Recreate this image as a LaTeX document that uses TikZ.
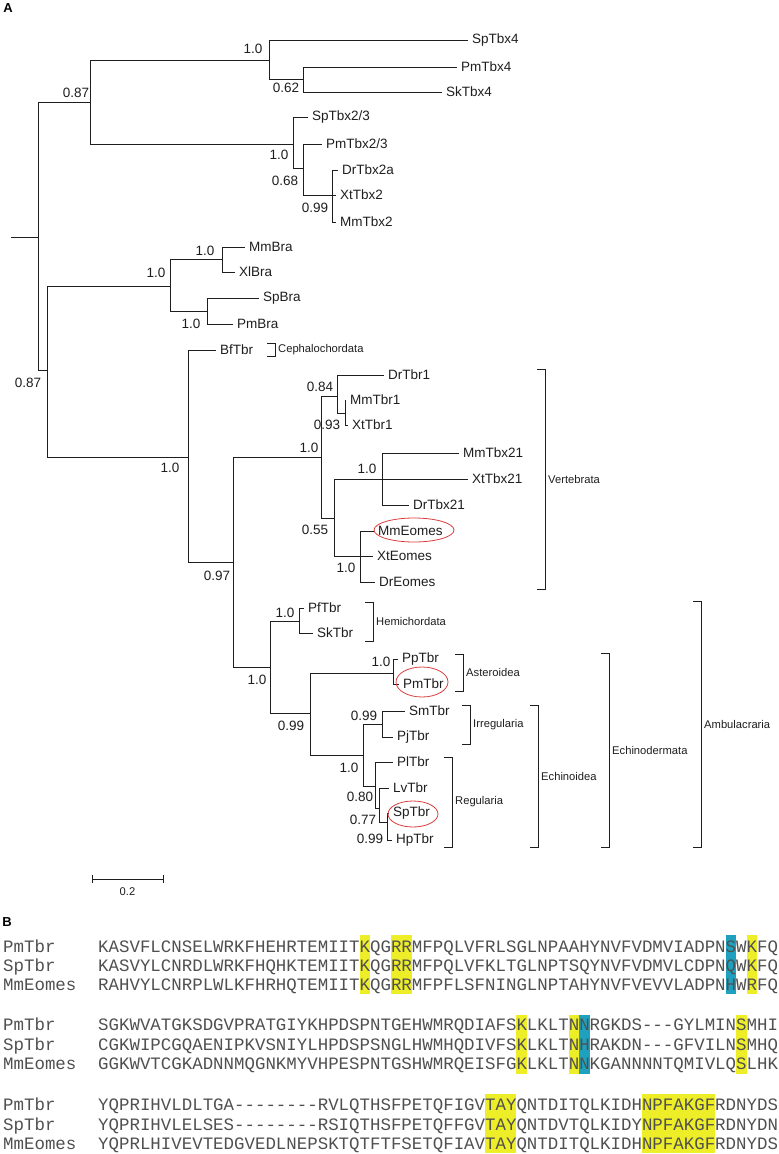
\documentclass[tikz,border=0pt]{standalone}
\usepackage{fontspec}
\setmainfont{Liberation Sans}
\setmonofont{Liberation Mono}
\usetikzlibrary{calc}

\definecolor{hlyel}{RGB}{238,238,40}
\definecolor{hlcyan}{RGB}{30,160,190}
\definecolor{seqgray}{RGB}{80,80,80}
\definecolor{ovalred}{RGB}{218,60,60}
\definecolor{treeink}{RGB}{30,30,30}

\begin{document}
\begin{tikzpicture}[x=1pt,y=-1pt,
  branch/.style={line width=0.9pt,color=treeink},
  tip/.style={anchor=west,inner sep=0pt,xshift=4pt,text=treeink,font=\fontsize{13.5}{14}\selectfont},
  supp/.style={inner sep=0pt,text=treeink,font=\fontsize{13.5}{14}\selectfont},
  bracket/.style={line width=0.9pt,color=treeink},
  grp/.style={anchor=west,inner sep=0pt,text=treeink,font=\fontsize{11.2}{12}\selectfont},
  oval/.style={line width=0.8pt,color=ovalred},
  seq/.style={anchor=base west,inner sep=0pt,text=seqgray,font=\ttfamily\fontsize{17.43}{18}\selectfont},
  panel/.style={inner sep=0pt,font=\bfseries\fontsize{13}{14}\selectfont}]
\useasboundingbox (0,0) rectangle (779,1154);

\node[panel] (pA) at (8,8) {A};
\node[panel] (pB) at (7,922) {B};

% internal nodes of the tree
\coordinate (r0) at (11,237);
\coordinate (r) at (38,237);
\coordinate (n1) at (90,102);
\coordinate (n2) at (269,60);
\coordinate (n4) at (303,79);
\coordinate (n3) at (293,144);
\coordinate (n5) at (303,168);
\coordinate (n6) at (332,195);
\coordinate (n7) at (47,370);
\coordinate (n8) at (170,286);
\coordinate (n10) at (222,259);
\coordinate (n11) at (207,311);
\coordinate (n9) at (188,457);
\coordinate (n12) at (233,562);
\coordinate (n13) at (321,457);
\coordinate (n15) at (337,396);
\coordinate (n17) at (345,413);
\coordinate (n16) at (334,518);
\coordinate (n18) at (382,479);
\coordinate (n19) at (360,556);
\coordinate (n14) at (270,667);
\coordinate (n20) at (299,621);
\coordinate (n21) at (310,713);
\coordinate (n22) at (393,673);
\coordinate (n23) at (363,755);
\coordinate (n24) at (382,724);
\coordinate (n25) at (375,786);
\coordinate (n26) at (379,808);
\coordinate (n27) at (387,822);

% tips
\coordinate (tSpTbx4) at (468,40);
\coordinate (tPmTbx4) at (457,67);
\coordinate (tSkTbx4) at (442,92);
\coordinate (tSpTbx23) at (308,117);
\coordinate (tPmTbx23) at (322,144);
\coordinate (tDrTbx2a) at (338,170);
\coordinate (tXtTbx2) at (336,195);
\coordinate (tMmTbx2) at (336,222);
\coordinate (tMmBra) at (245,247);
\coordinate (tXlBra) at (235,272);
\coordinate (tSpBra) at (259,298);
\coordinate (tPmBra) at (233,324);
\coordinate (tBfTbr) at (216,350);
\coordinate (tDrTbr1) at (384,375);
\coordinate (tMmTbr1) at (346,400);
\coordinate (tXtTbr1) at (348,425);
\coordinate (tMmTbx21) at (459,453);
\coordinate (tXtTbx21) at (468,479);
\coordinate (tDrTbx21) at (409,505);
\coordinate (tMmEomes) at (374,531);
\coordinate (tXtEomes) at (373,556);
\coordinate (tDrEomes) at (375,582);
\coordinate (tPfTbr) at (304,608);
\coordinate (tSkTbr) at (313,633);
\coordinate (tPpTbr) at (398,659);
\coordinate (tPmTbr) at (399,684);
\coordinate (tSmTbr) at (405,711);
\coordinate (tPjTbr) at (393,737);
\coordinate (tPlTbr) at (393,762);
\coordinate (tLvTbr) at (389,788);
\coordinate (tSpTbr) at (389,813);
\coordinate (tHpTbr) at (392,840);

\draw[branch] (r0) -- (r) (r) |- (n1) (r) |- (n7);
\draw[branch] (n1) |- (n2) (n1) |- (n3);
\draw[branch] (n2) |- (tSpTbx4) (n2) |- (n4) (n4) |- (tPmTbx4) (n4) |- (tSkTbx4);
\draw[branch] (n3) |- (tSpTbx23) (n3) |- (n5) (n5) |- (tPmTbx23) (n5) |- (n6);
\draw[branch] (n6) |- (tDrTbx2a) (n6) |- (tXtTbx2) (n6) |- (tMmTbx2);
\draw[branch] (n7) |- (n8) (n7) |- (n9);
\draw[branch] (n8) |- (n10) (n8) |- (n11);
\draw[branch] (n10) |- (tMmBra) (n10) |- (tXlBra) (n11) |- (tSpBra) (n11) |- (tPmBra);
\draw[branch] (n9) |- (tBfTbr) (n9) |- (n12);
\draw[branch] (n12) |- (n13) (n12) |- (n14);
\draw[branch] (n13) |- (n15) (n13) |- (n16);
\draw[branch] (n15) |- (tDrTbr1) (n15) |- (n17) (n17) |- (tMmTbr1) (n17) |- (tXtTbr1);
\draw[branch] (n16) |- (n18) (n16) |- (n19);
\draw[branch] (n18) |- (tMmTbx21) (n18) |- (tXtTbx21) (n18) |- (tDrTbx21);
\draw[branch] (n19) |- (tMmEomes) (n19) |- (tXtEomes) (n19) |- (tDrEomes);
\draw[branch] (n14) |- (n20) (n14) |- (n21);
\draw[branch] (n20) |- (tPfTbr) (n20) |- (tSkTbr);
\draw[branch] (n21) |- (n22) (n21) |- (n23);
\draw[branch] (n22) |- (tPpTbr) (n22) |- (tPmTbr);
\draw[branch] (n23) |- (n24) (n23) |- (n25);
\draw[branch] (n24) |- (tSmTbr) (n24) |- (tPjTbr);
\draw[branch] (n25) |- (tPlTbr) (n25) |- (n26);
\draw[branch] (n26) |- (tLvTbr) (n26) |- (n27);
\draw[branch] (n27) |- (tSpTbr) (n27) |- (tHpTbr);

\node[tip] (lSpTbx4) at (tSpTbx4) {SpTbx4};
\node[tip] (lPmTbx4) at (tPmTbx4) {PmTbx4};
\node[tip] (lSkTbx4) at (tSkTbx4) {SkTbx4};
\node[tip] (lSpTbx23) at (tSpTbx23) {SpTbx2/3};
\node[tip] (lPmTbx23) at (tPmTbx23) {PmTbx2/3};
\node[tip] (lDrTbx2a) at (tDrTbx2a) {DrTbx2a};
\node[tip] (lXtTbx2) at (tXtTbx2) {XtTbx2};
\node[tip] (lMmTbx2) at (tMmTbx2) {MmTbx2};
\node[tip] (lMmBra) at (tMmBra) {MmBra};
\node[tip] (lXlBra) at (tXlBra) {XlBra};
\node[tip] (lSpBra) at (tSpBra) {SpBra};
\node[tip] (lPmBra) at (tPmBra) {PmBra};
\node[tip] (lBfTbr) at (tBfTbr) {BfTbr};
\node[tip] (lDrTbr1) at (tDrTbr1) {DrTbr1};
\node[tip] (lMmTbr1) at (tMmTbr1) {MmTbr1};
\node[tip] (lXtTbr1) at (tXtTbr1) {XtTbr1};
\node[tip] (lMmTbx21) at (tMmTbx21) {MmTbx21};
\node[tip] (lXtTbx21) at (tXtTbx21) {XtTbx21};
\node[tip] (lDrTbx21) at (tDrTbx21) {DrTbx21};
\node[tip] (lMmEomes) at (tMmEomes) {MmEomes};
\node[tip] (lXtEomes) at (tXtEomes) {XtEomes};
\node[tip] (lDrEomes) at (tDrEomes) {DrEomes};
\node[tip] (lPfTbr) at (tPfTbr) {PfTbr};
\node[tip] (lSkTbr) at (tSkTbr) {SkTbr};
\node[tip] (lPpTbr) at (tPpTbr) {PpTbr};
\node[tip] (lPmTbr) at (tPmTbr) {PmTbr};
\node[tip] (lSmTbr) at (tSmTbr) {SmTbr};
\node[tip] (lPjTbr) at (tPjTbr) {PjTbr};
\node[tip] (lPlTbr) at (tPlTbr) {PlTbr};
\node[tip] (lLvTbr) at (tLvTbr) {LvTbr};
\node[tip] (lSpTbr) at (tSpTbr) {SpTbr};
\node[tip] (lHpTbr) at (tHpTbr) {HpTbr};

% support values
\node[supp] (s1) at (76,93) {0.87};
\node[supp] (s2) at (253,49) {1.0};
\node[supp] (s3) at (286,88) {0.62};
\node[supp] (s4) at (279,155) {1.0};
\node[supp] (s5) at (285,181) {0.68};
\node[supp] (s6) at (315,208) {0.99};
\node[supp] (s7) at (28,383) {0.87};
\node[supp] (s8) at (156,273) {1.0};
\node[supp] (s9) at (205,251) {1.0};
\node[supp] (s10) at (191,324) {1.0};
\node[supp] (s11) at (170,468) {1.0};
\node[supp] (s12) at (217,576) {0.97};
\node[supp] (s13) at (309,448) {1.0};
\node[supp] (s14) at (320,387) {0.84};
\node[supp] (s15) at (327,425) {0.93};
\node[supp] (s16) at (315,530) {0.55};
\node[supp] (s17) at (367,469) {1.0};
\node[supp] (s18) at (346,568) {1.0};
\node[supp] (s19) at (257,680) {1.0};
\node[supp] (s20) at (285,613) {1.0};
\node[supp] (s21) at (291,726) {0.99};
\node[supp] (s22) at (381,662) {1.0};
\node[supp] (s23) at (364,716) {0.99};
\node[supp] (s24) at (349,768) {1.0};
\node[supp] (s25) at (360,797) {0.80};
\node[supp] (s26) at (363,820) {0.77};
\node[supp] (s27) at (370,839) {0.99};

% circled genes
\coordinate (oMmEomes) at (414,530);
\coordinate (oPmTbr) at (422,682);
\coordinate (oSpTbr) at (413,814);
\draw[oval] (oMmEomes) ellipse [x radius=40,y radius=12];
\draw[oval] (oPmTbr) ellipse [x radius=26,y radius=15];
\draw[oval] (oSpTbr) ellipse [x radius=25,y radius=13];

% clade brackets
\coordinate (cepT) at (275,343); \coordinate (cepB) at (275,356);
\coordinate (verT) at (545,369); \coordinate (verB) at (545,589);
\coordinate (hemT) at (373,602); \coordinate (hemB) at (373,641);
\coordinate (astT) at (463,654); \coordinate (astB) at (463,691);
\coordinate (irrT) at (470,705); \coordinate (irrB) at (470,744);
\coordinate (regT) at (452,757); \coordinate (regB) at (452,847);
\coordinate (echT) at (538,705); \coordinate (echB) at (538,847);
\coordinate (edmT) at (609,653); \coordinate (edmB) at (609,847);
\coordinate (ambT) at (701,601); \coordinate (ambB) at (701,847);

\draw[bracket] ($(cepT)+(-8,0)$) -- (cepT) -- (cepB) -- ($(cepB)+(-8,0)$);
\draw[bracket] ($(verT)+(-8,0)$) -- (verT) -- (verB) -- ($(verB)+(-8,0)$);
\draw[bracket] ($(hemT)+(-8,0)$) -- (hemT) -- (hemB) -- ($(hemB)+(-8,0)$);
\draw[bracket] ($(astT)+(-8,0)$) -- (astT) -- (astB) -- ($(astB)+(-8,0)$);
\draw[bracket] ($(irrT)+(-8,0)$) -- (irrT) -- (irrB) -- ($(irrB)+(-8,0)$);
\draw[bracket] ($(regT)+(-8,0)$) -- (regT) -- (regB) -- ($(regB)+(-8,0)$);
\draw[bracket] ($(echT)+(-8,0)$) -- (echT) -- (echB) -- ($(echB)+(-8,0)$);
\draw[bracket] ($(edmT)+(-8,0)$) -- (edmT) -- (edmB) -- ($(edmB)+(-8,0)$);
\draw[bracket] ($(ambT)+(-8,0)$) -- (ambT) -- (ambB) -- ($(ambB)+(-8,0)$);

\node[grp] (gCep) at ($(cepT)!0.5!(cepB)+(3,0)$) {Cephalochordata};
\node[grp] (gVer) at ($(verT)!0.5!(verB)+(3,0)$) {Vertebrata};
\node[grp] (gHem) at ($(hemT)!0.5!(hemB)+(3,0)$) {Hemichordata};
\node[grp] (gAst) at ($(astT)!0.5!(astB)+(3,0)$) {Asteroidea};
\node[grp] (gIrr) at ($(irrT)!0.5!(irrB)+(3,0)$) {Irregularia};
\node[grp] (gReg) at ($(regT)!0.5!(regB)+(3,0)$) {Regularia};
\node[grp] (gEch) at ($(echT)!0.5!(echB)+(3,0)$) {Echinoidea};
\node[grp] (gEdm) at ($(edmT)!0.5!(edmB)+(3,0)$) {Echinodermata};
\node[grp] (gAmb) at ($(ambT)!0.5!(ambB)+(3,0)$) {Ambulacraria};

% scale bar
\coordinate (sbL) at (92,879);
\coordinate (sbR) at (163,879);
\draw[bracket] (sbL) -- (sbR) ($(sbL)+(0,-4)$) -- ($(sbL)+(0,4)$) ($(sbR)+(0,-4)$) -- ($(sbR)+(0,4)$);
\node[grp,anchor=center] (sbT) at ($(sbL)!0.5!(sbR)+(0,13)$) {0.2};

% alignment, panel B
\foreach \c in {25,28,29,62} \fill[hlyel] ({98+\c*10.46},935) rectangle ({98+(\c+1)*10.46},994);
\foreach \c in {60} \fill[hlcyan] ({98+\c*10.46},935) rectangle ({98+(\c+1)*10.46},994);
\foreach \c in {40,45,61} \fill[hlyel] ({98+\c*10.46},1015) rectangle ({98+(\c+1)*10.46},1074);
\foreach \c in {46} \fill[hlcyan] ({98+\c*10.46},1015) rectangle ({98+(\c+1)*10.46},1074);
\foreach \c in {37,38,39,52,53,54,55,56,57,58} \fill[hlyel] ({98+\c*10.46},1094) rectangle ({98+(\c+1)*10.46},1153);

\node[seq] (a1n) at (3,952) {PmTbr};
\node[seq] (a2n) at (3,971) {SpTbr};
\node[seq] (a3n) at (3,990) {MmEomes};
\node[seq] (a1) at (98,952) {KASVFLCNSELWRKFHEHRTEMIITKQGRRMFPQLVFRLSGLNPAAHYNVFVDMVIADPNSWKFQ};
\node[seq] (a2) at (98,971) {KASVYLCNRDLWRKFHQHKTEMIITKQGRRMFPQLVFKLTGLNPTSQYNVFVDMVLCDPNQWKFQ};
\node[seq] (a3) at (98,990) {RAHVYLCNRPLWLKFHRHQTEMIITKQGRRMFPFLSFNINGLNPTAHYNVFVEVVLADPNHWRFQ};

\node[seq] (b1n) at (3,1030) {PmTbr};
\node[seq] (b2n) at (3,1050) {SpTbr};
\node[seq] (b3n) at (3,1069) {MmEomes};
\node[seq] (b1) at (98,1030) {SGKWVATGKSDGVPRATGIYKHPDSPNTGEHWMRQDIAFSKLKLTNNRGKDS---GYLMINSMHI};
\node[seq] (b2) at (98,1050) {CGKWIPCGQAENIPKVSNIYLHPDSPSNGLHWMHQDIVFSKLKLTNHRAKDN---GFVILNSMHQ};
\node[seq] (b3) at (98,1069) {GGKWVTCGKADNNMQGNKMYVHPESPNTGSHWMRQEISFGKLKLTNNKGANNNNTQMIVLQSLHK};

\node[seq] (c1n) at (3,1110) {PmTbr};
\node[seq] (c2n) at (3,1130) {SpTbr};
\node[seq] (c3n) at (3,1149) {MmEomes};
\node[seq] (c1) at (98,1110) {YQPRIHVLDLTGA--------RVLQTHSFPETQFIGVTAYQNTDITQLKIDHNPFAKGFRDNYDS};
\node[seq] (c2) at (98,1130) {YQPRIHVLELSES--------RSIQTHSFPETQFFGVTAYQNTDVTQLKIDYNPFAKGFRDNYDN};
\node[seq] (c3) at (98,1149) {YQPRLHIVEVTEDGVEDLNEPSKTQTFTFSETQFIAVTAYQNTDITQLKIDHNPFAKGFRDNYDS};

\end{tikzpicture}
\end{document}
